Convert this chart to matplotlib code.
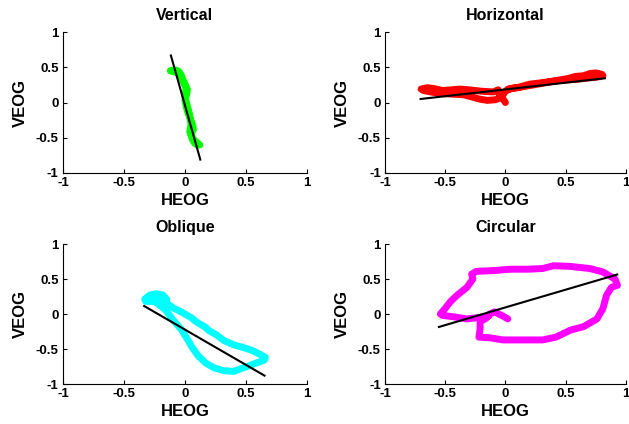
import matplotlib
matplotlib.use("Agg")
import matplotlib.pyplot as plt

plt.rcParams['font.family'] = ['Liberation Sans', 'DejaVu Sans']
plt.rcParams['font.weight'] = 'bold'

titles = ["Vertical", "Horizontal", "Oblique", "Circular"]
colors = ["#00ff00", "#ff0000", "#00ffff", "#ff00ff"]
ticks = [-1, -0.5, 0, 0.5, 1]
tick_labels = ["-1", "-0.5", "0", "0.5", "1"]

# Vertical trace
v_heog = [0.12, 0.10, 0.08, 0.06, 0.05, 0.07, 0.06, 0.04, 0.02, 0.01, 0.0, 0.015, 0.02, 0.0,
          -0.02, -0.03, -0.05, -0.07, -0.1, -0.12, -0.1, -0.06, -0.03, -0.01, 0.01, 0.0, 0.02,
          0.04, 0.05, 0.04, 0.07, 0.1, 0.12]
v_veog = [-0.6, -0.6, -0.58, -0.52, -0.46, -0.38, -0.3, -0.22, -0.12, -0.05, 0.03, 0.12, 0.18,
          0.27, 0.33, 0.39, 0.44, 0.46, 0.46, 0.45, 0.44, 0.42, 0.36, 0.28, 0.2, 0.08, -0.05,
          -0.18, -0.3, -0.42, -0.52, -0.57, -0.6]
v_fit_x = [-0.115, 0.126]
v_fit_y = [0.667, -0.81]

# Horizontal trace
h_heog = [0.0, -0.02, -0.05, -0.06, -0.1, -0.2, -0.3, -0.38, -0.45, -0.52, -0.6, -0.65, -0.7,
          -0.68, -0.62, -0.55, -0.45, -0.35, -0.28, -0.22, -0.15, -0.08, -0.03, 0.0, 0.05,
          0.12, 0.2, 0.3, 0.38, 0.45, 0.52, 0.58, 0.65, 0.7, 0.75, 0.8, 0.81, 0.76, 0.7,
          0.6, 0.5, 0.4, 0.3, 0.2, 0.1, 0.02]
h_veog = [0.0, 0.05, 0.12, 0.18, 0.15, 0.16, 0.18, 0.19, 0.18, 0.17, 0.2, 0.21, 0.19,
          0.17, 0.15, 0.13, 0.12, 0.11, 0.08, 0.05, 0.03, 0.04, 0.08, 0.16, 0.2,
          0.22, 0.26, 0.28, 0.3, 0.32, 0.34, 0.37, 0.38, 0.41, 0.42, 0.4, 0.38, 0.36, 0.35,
          0.33, 0.32, 0.3, 0.27, 0.24, 0.21, 0.19]
h_fit_x = [-0.704, 0.826]
h_fit_y = [0.05, 0.344]

# Oblique trace
o_heog = [-0.15, -0.18, -0.23, -0.29, -0.33, -0.32, -0.27, -0.2, -0.15, -0.1, -0.03, 0.05,
          0.1, 0.16, 0.2, 0.26, 0.32, 0.4, 0.48, 0.55, 0.62, 0.66, 0.65, 0.6, 0.54, 0.46,
          0.4, 0.32, 0.24, 0.17, 0.11, 0.06, 0.02, -0.03, -0.1, -0.16, -0.24, -0.3]
o_veog = [0.21, 0.27, 0.29, 0.27, 0.21, 0.18, 0.18, 0.2, 0.16, 0.09, 0.03, -0.05,
          -0.12, -0.18, -0.24, -0.3, -0.38, -0.44, -0.48, -0.52, -0.58, -0.62, -0.66, -0.69, -0.73, -0.78,
          -0.82, -0.81, -0.77, -0.7, -0.6, -0.48, -0.36, -0.22, -0.08, 0.06, 0.17, 0.21]
o_fit_x = [-0.334, 0.652]
o_fit_y = [0.114, -0.88]

# Circular trace
c_heog = [0.02, -0.02, -0.09, -0.13, -0.16, -0.21, -0.21, -0.22, -0.13, -0.02, 0.15, 0.31,
          0.42, 0.54, 0.65, 0.76, 0.81, 0.84, 0.88, 0.93, 0.91, 0.81, 0.7, 0.54, 0.4,
          0.31, 0.18, 0.04, -0.1, -0.24, -0.28, -0.27, -0.32, -0.4, -0.46, -0.5, -0.54,
          -0.52, -0.43, -0.32, -0.22, -0.14]
c_veog = [-0.07, -0.03, 0.03, 0.0, -0.06, -0.11, -0.21, -0.33, -0.34, -0.37, -0.37, -0.37,
          -0.33, -0.23, -0.18, -0.07, 0.08, 0.27, 0.38, 0.41, 0.5, 0.6, 0.65, 0.68, 0.69,
          0.65, 0.64, 0.64, 0.62, 0.61, 0.57, 0.5, 0.38, 0.27, 0.17, 0.08, 0.0,
          -0.02, -0.04, -0.07, -0.05, -0.03]
c_fit_x = [-0.552, 0.928]
c_fit_y = [-0.185, 0.564]

traces = [(v_heog, v_veog, v_fit_x, v_fit_y),
          (h_heog, h_veog, h_fit_x, h_fit_y),
          (o_heog, o_veog, o_fit_x, o_fit_y),
          (c_heog, c_veog, c_fit_x, c_fit_y)]

fig = plt.figure(figsize=(6.29, 4.24), dpi=100)
positions = [[0.100, 0.592, 0.388, 0.3325],
             [0.612, 0.592, 0.383, 0.3325],
             [0.100, 0.0943, 0.388, 0.3302],
             [0.612, 0.0943, 0.383, 0.3302]]

for pos, title, col, (hx, vy, fx, fy) in zip(positions, titles, colors, traces):
    ax = fig.add_axes(pos)
    ax.plot(hx, vy, color=col, lw=5, solid_joinstyle='round', solid_capstyle='round')
    ax.plot(fx, fy, color='black', lw=1.5)
    ax.set_xlim(-1, 1)
    ax.set_ylim(-1, 1)
    ax.set_xticks(ticks)
    ax.set_yticks(ticks)
    ax.set_xticklabels(tick_labels, fontsize=9.5, fontweight='bold')
    ax.set_yticklabels(tick_labels, fontsize=9.5, fontweight='bold')
    ax.tick_params(direction='in', length=3, width=0.8, pad=3)
    ax.spines['top'].set_visible(False)
    ax.spines['right'].set_visible(False)
    ax.spines['left'].set_linewidth(0.8)
    ax.spines['bottom'].set_linewidth(0.8)
    ax.set_title(title, fontsize=11.5, fontweight='bold', pad=9)
    ax.set_xlabel('HEOG', fontsize=12, fontweight='bold', labelpad=3)
    ax.set_ylabel('VEOG', fontsize=12, fontweight='bold', labelpad=6)

fig.savefig('out.png', dpi=100)
